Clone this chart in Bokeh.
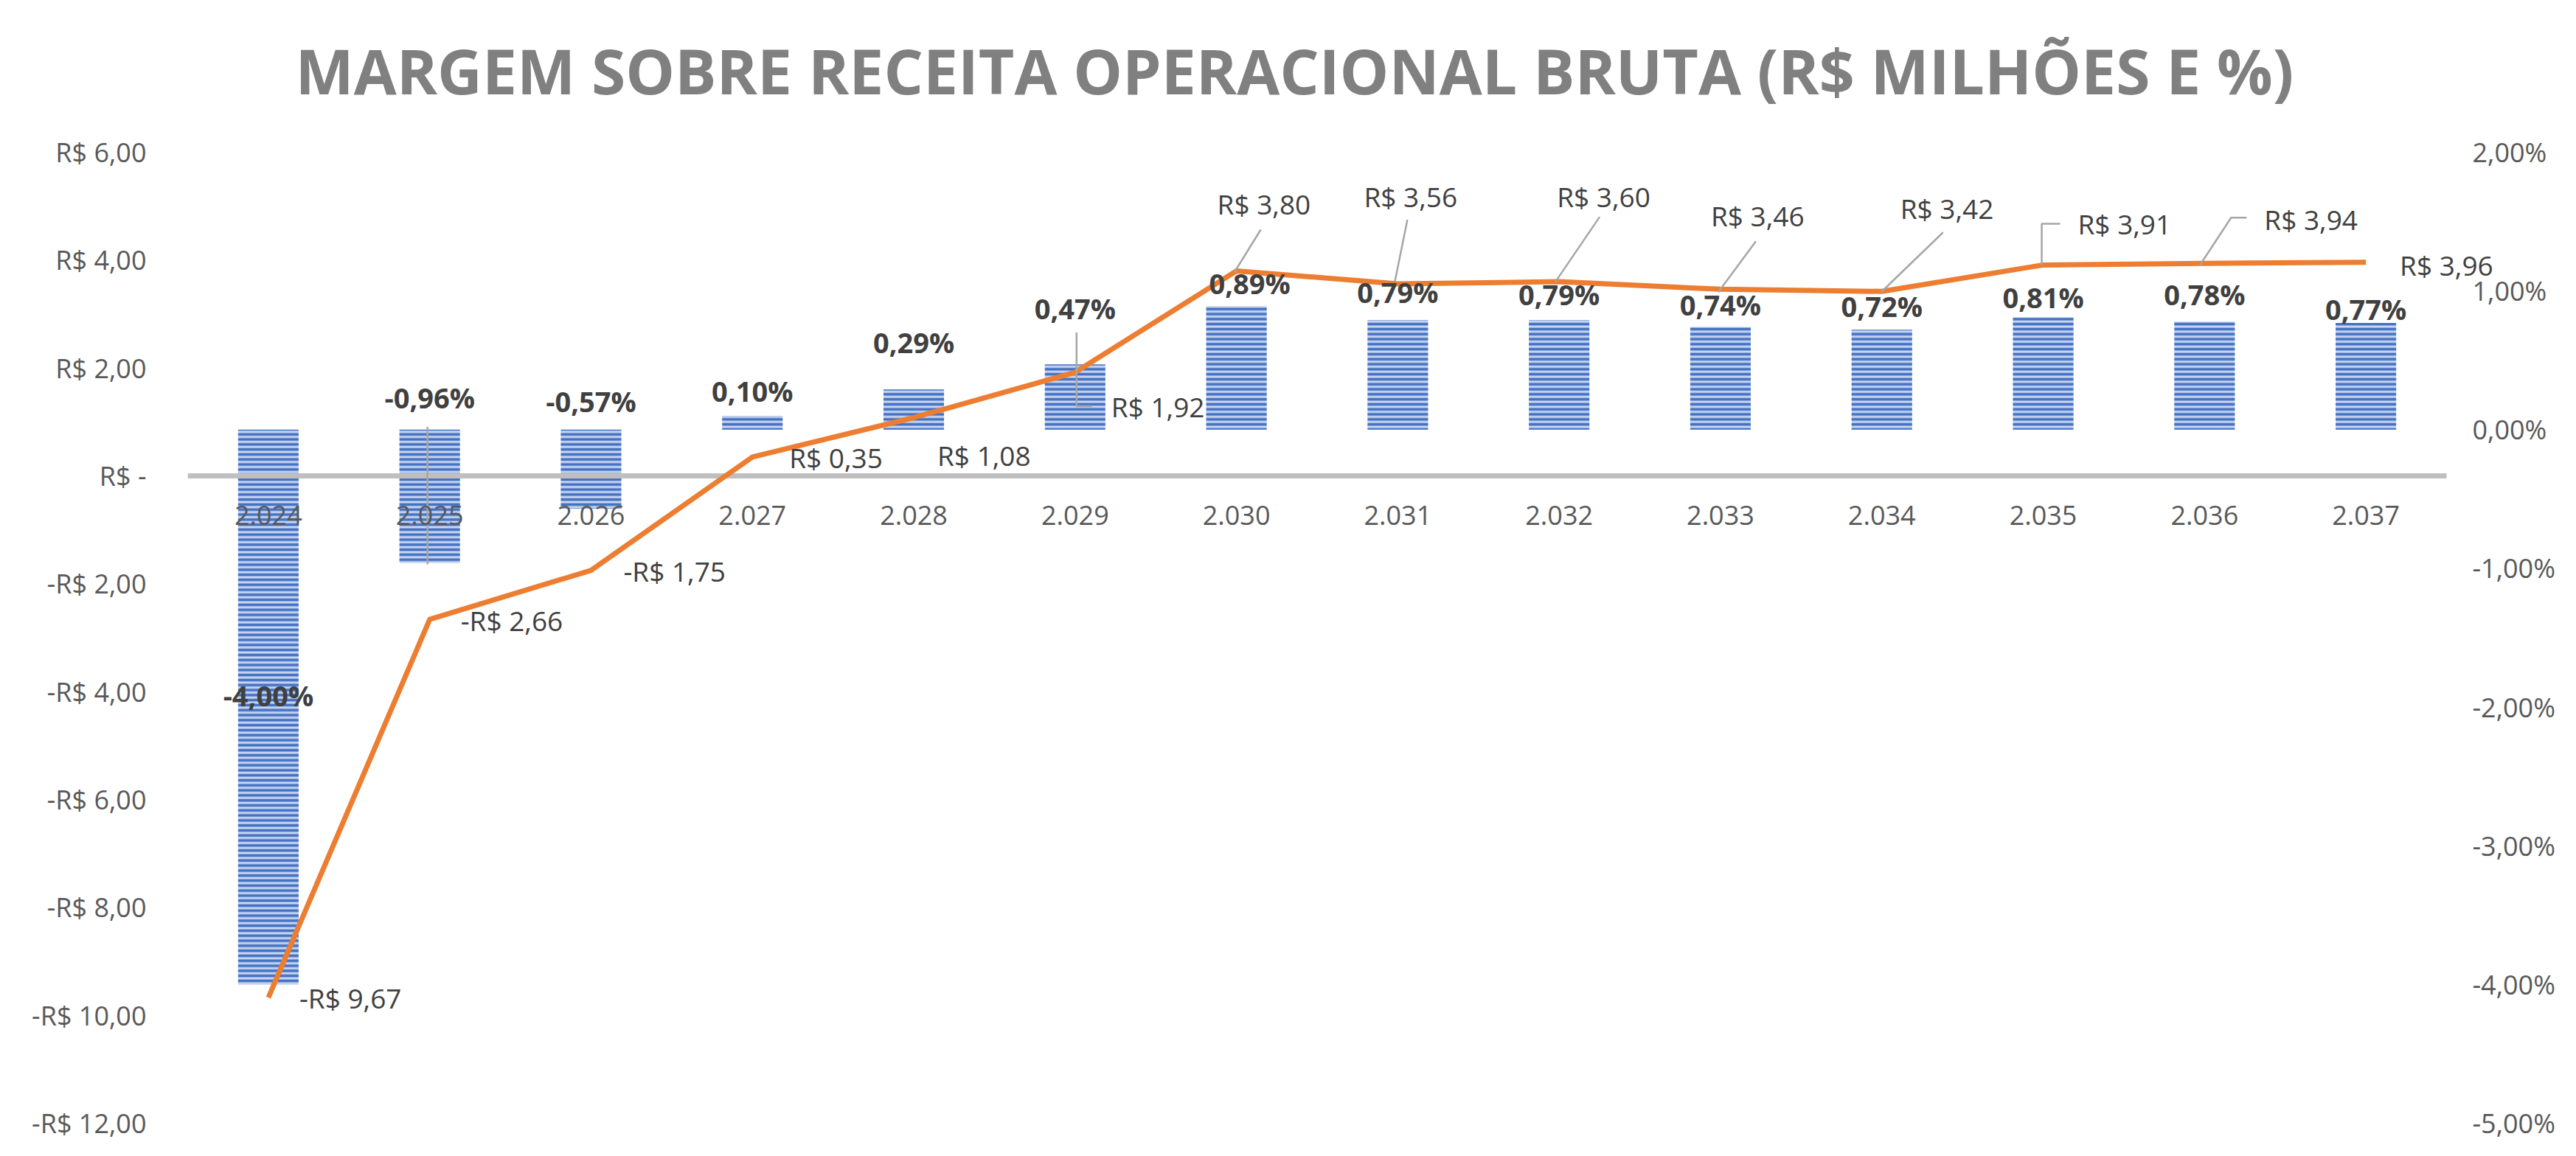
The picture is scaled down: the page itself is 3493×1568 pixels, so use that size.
import numpy as np
from bokeh.plotting import figure
from bokeh.models import Range1d, FixedTicker, LabelSet, ColumnDataSource
from bokeh.core.properties import value
from bokeh.embed import file_html
from bokeh.resources import INLINE

# ---------------- data ----------------
categories = ["2.024", "2.025", "2.026", "2.027", "2.028", "2.029", "2.030",
              "2.031", "2.032", "2.033", "2.034", "2.035", "2.036", "2.037"]
margem_pct = [-4.00, -0.96, -0.57, 0.10, 0.29, 0.47, 0.89,
              0.79, 0.79, 0.74, 0.72, 0.81, 0.78, 0.77]
resultado_brl = [-9.67, -2.66, -1.75, 0.35, 1.08, 1.92, 3.80,
                 3.56, 3.60, 3.46, 3.42, 3.91, 3.94, 3.96]
left_ticks = [-12, -10, -8, -6, -4, -2, 0, 2, 4, 6]
left_tick_labels = ["-R$ 12,00", "-R$ 10,00", "-R$ 8,00", "-R$ 6,00", "-R$ 4,00",
                    "-R$ 2,00", "R$ -", "R$ 2,00", "R$ 4,00", "R$ 6,00"]
right_ticks = [-5, -4, -3, -2, -1, 0, 1, 2]
right_tick_labels = ["-5,00%", "-4,00%", "-3,00%", "-2,00%", "-1,00%",
                     "0,00%", "1,00%", "2,00%"]
title_text = "MARGEM SOBRE RECEITA OPERACIONAL BRUTA (R$ MILHÕES E %)"

# ---------------- layout ----------------
W, H = 3477, 1552
AREA_L, AREA_T, AREA_W, AREA_H = 254, 206, 3063, 1317   # plot area (canvas px)
FRAME_R, FRAME_T, FRAME_B = 3469, 164, 1552              # drawing frame (canvas px)
n = len(categories)
YL = (-12, 6)
YR = (-5, 2)
px_x = AREA_W / n
px_yl = AREA_H / (YL[1] - YL[0])
px_yr = AREA_H / (YR[1] - YR[0])
pad_top = AREA_T - FRAME_T
pad_bot = FRAME_B - (AREA_T + AREA_H)
x_end = (FRAME_R - AREA_L) / px_x

# label placement (screen px relative to the point; +dy = down)
line_label_dx = [42, 42, 44, 50, 32, 49, -26, -46, -3, -13, 25, 47, 81, 46]
line_label_dy = [0, 1, 1, 1, 51, 46, -91, -119, -116, -100, -113, -56, -60, 4]
leader_paths = {5: [(23, 46), (2, 46), (2, -54)],
                6: [(33, -56), (-3, 2)],
                7: [(13, -87), (-4, -3)],
                8: [(55, -88), (-5, 0)],
                9: [(48, -65), (-3, 4)],
                10: [(83, -80), (-1, 1)],
                11: [(23, -56), (-2, -56), (-2, 0)],
                12: [(57, -62), (36, -62), (-6, 2)]}
bar_label_dx = [0, 0, 0, 0, 0, 0, 18, 0, 0, 0, 0, 0, 0, 0]
bar_label_dy = [360, -44, -39, -34, -64, -76, -31, -38, -35, -31, -32, -27, -37, -19]


def brl(v):
    s = f"{abs(v):.2f}".replace(".", ",")
    return ("-R$ " if v < 0 else "R$ ") + s


def pct(v):
    return f"{v:.2f}".replace(".", ",") + "%"


xc = np.arange(n) + 0.5

p = figure(width=W, height=H, output_backend="svg", toolbar_location=None,
           x_range=Range1d(0, x_end),
           y_range=Range1d(YL[0] - pad_bot / px_yl, YL[1] + pad_top / px_yl),
           x_axis_location=None, title=title_text,
           min_border_left=AREA_L, min_border_right=W - FRAME_R,
           min_border_top=FRAME_T, min_border_bottom=H - FRAME_B)
p.extra_y_ranges = {"pct": Range1d(YR[0] - pad_bot / px_yr, YR[1] + pad_top / px_yr)}
p.grid.visible = False
p.outline_line_color = None
p.background_fill_color = "white"
p.border_fill_color = "white"

p.title.align = "left"
p.title.offset = 146
p.title.text_font = "Open Sans"
p.title.text_font_size = "84px"
p.title.text_font_style = "bold"
p.title.text_color = "#808080"
p.title.standoff = 23

ax = p.yaxis[0]
ax.ticker = FixedTicker(ticks=left_ticks)
ax.major_label_overrides = {t: s for t, s in zip(left_ticks, left_tick_labels)}
ax.axis_line_color = None
ax.major_tick_line_color = None
ax.minor_tick_line_color = None
ax.major_label_standoff = 50
ax.major_label_text_font = "Open Sans"
ax.major_label_text_font_size = "36px"
ax.major_label_text_color = "#595959"

# bars (percent, right scale)
bar_src = ColumnDataSource(dict(x=xc, top=margem_pct, bottom=[0] * n))
p.vbar(x="x", top="top", bottom="bottom", width=0.375, source=bar_src, y_range_name="pct",
       fill_color="#C9D6F0", line_color=None,
       hatch_pattern="horizontal_line", hatch_color="#4472C4",
       hatch_scale=6.8, hatch_weight=3.7)

# category axis line at R$ 0
p.segment(x0=[0], y0=[0], x1=[n], y1=[0], line_color="#BFBFBF", line_width=7, line_cap="butt")

# leader of the -0,96% bar label
p.segment(x0=[xc[1] - 3 / px_x], y0=[4 / px_yr], x1=[xc[1] - 3 / px_x],
          y1=[margem_pct[1] - 2 / px_yr], y_range_name="pct",
          line_color="#A6A6A6", line_width=2.5)

# category labels
cat_src = ColumnDataSource(dict(x=xc, y=[0 - 53 / px_yl] * n, text=categories))
p.add_layout(LabelSet(x="x", y="y", text="text", source=cat_src, text_align="center",
                      text_baseline="middle", text_font=value("Open Sans"),
                      text_font_size="36px", text_color="#595959"))

# right-scale labels
r_src = ColumnDataSource(dict(x=[n + 35 / px_x] * len(right_ticks), y=right_ticks,
                              text=right_tick_labels))
p.add_layout(LabelSet(x="x", y="y", text="text", source=r_src, y_range_name="pct",
                      text_align="left", text_baseline="middle", text_font=value("Open Sans"),
                      text_font_size="36px", text_color="#595959"))

# line (R$, left scale)
p.line(xc, resultado_brl, line_color="#ED7D31", line_width=7, line_join="round")

# leader lines of the line labels
lx, ly = [], []
for i, path in leader_paths.items():
    lx.append([xc[i] + dx / px_x for dx, dy in path])
    ly.append([resultado_brl[i] - dy / px_yl for dx, dy in path])
p.multi_line(lx, ly, line_color="#A6A6A6", line_width=2.5)

# line labels
ll_src = ColumnDataSource(dict(
    x=[xc[i] + line_label_dx[i] / px_x for i in range(n)],
    y=[resultado_brl[i] - line_label_dy[i] / px_yl for i in range(n)],
    text=[brl(v) for v in resultado_brl]))
p.add_layout(LabelSet(x="x", y="y", text="text", source=ll_src, text_align="left",
                      text_baseline="middle", text_font=value("Open Sans"),
                      text_font_size="37px", text_color="#404040"))

# bar labels
bl_src = ColumnDataSource(dict(
    x=[xc[i] + bar_label_dx[i] / px_x for i in range(n)],
    y=[max(v, 0) - bar_label_dy[i] / px_yr for i, v in enumerate(margem_pct)],
    text=[pct(v) for v in margem_pct]))
p.add_layout(LabelSet(x="x", y="y", text="text", source=bl_src, y_range_name="pct",
                      text_align="center", text_baseline="middle",
                      text_font=value("Open Sans"), text_font_size="38px",
                      text_font_style="bold", text_color="#404040"))

open("out.html", "w").write(file_html(p, INLINE))
